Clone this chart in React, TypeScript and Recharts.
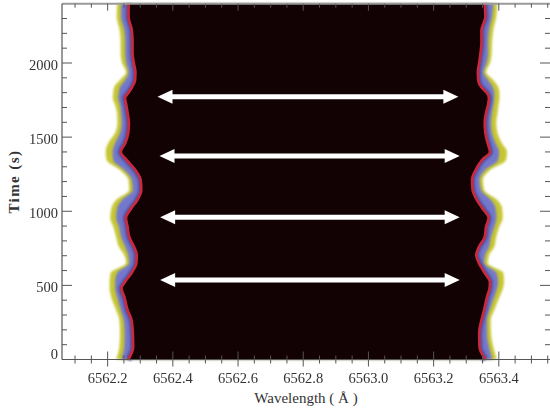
import { Area, ComposedChart, ReferenceDot, ReferenceLine, XAxis, YAxis } from "recharts";

const times = [2400, 2310, 2222, 2135, 2067, 2000, 1939, 1885, 1838, 1797, 1764, 1717, 1663, 1595, 1528, 1460, 1400, 1346, 1278, 1211, 1143, 1076, 1022, 954, 894, 826, 759, 705, 651, 583, 523, 482, 422, 334, 266, 179, 84, 0];

// left edge of the line: yellow rim, start of the blue, red ridge
const leftOuter = [6562.229, 6562.228, 6562.237, 6562.24, 6562.24, 6562.244, 6562.257, 6562.238, 6562.22, 6562.217, 6562.216, 6562.223, 6562.229, 6562.23, 6562.223, 6562.202, 6562.194, 6562.197, 6562.238, 6562.264, 6562.266, 6562.226, 6562.212, 6562.208, 6562.218, 6562.226, 6562.235, 6562.251, 6562.257, 6562.209, 6562.206, 6562.206, 6562.211, 6562.226, 6562.236, 6562.238, 6562.236, 6562.226];
const leftBlue = [6562.241, 6562.241, 6562.251, 6562.254, 6562.254, 6562.257, 6562.264, 6562.254, 6562.238, 6562.234, 6562.232, 6562.238, 6562.241, 6562.243, 6562.238, 6562.223, 6562.215, 6562.217, 6562.251, 6562.274, 6562.277, 6562.244, 6562.229, 6562.226, 6562.235, 6562.241, 6562.254, 6562.263, 6562.266, 6562.229, 6562.223, 6562.223, 6562.229, 6562.24, 6562.249, 6562.252, 6562.251, 6562.241];
const leftRed = [6562.264, 6562.264, 6562.274, 6562.276, 6562.276, 6562.28, 6562.285, 6562.284, 6562.275, 6562.263, 6562.253, 6562.257, 6562.261, 6562.265, 6562.263, 6562.254, 6562.24, 6562.258, 6562.285, 6562.301, 6562.303, 6562.291, 6562.273, 6562.256, 6562.261, 6562.266, 6562.281, 6562.289, 6562.288, 6562.273, 6562.253, 6562.242, 6562.251, 6562.261, 6562.273, 6562.277, 6562.278, 6562.263];

// right edge, same three curves
const rightRed = [6563.357, 6563.359, 6563.347, 6563.347, 6563.344, 6563.34, 6563.336, 6563.337, 6563.346, 6563.364, 6563.37, 6563.367, 6563.361, 6563.357, 6563.359, 6563.366, 6563.373, 6563.349, 6563.329, 6563.318, 6563.32, 6563.333, 6563.349, 6563.369, 6563.361, 6563.357, 6563.339, 6563.331, 6563.339, 6563.357, 6563.373, 6563.372, 6563.364, 6563.355, 6563.347, 6563.34, 6563.341, 6563.359];
const rightBlue = [6563.383, 6563.379, 6563.37, 6563.367, 6563.367, 6563.363, 6563.353, 6563.367, 6563.381, 6563.386, 6563.386, 6563.383, 6563.379, 6563.376, 6563.379, 6563.39, 6563.401, 6563.398, 6563.358, 6563.341, 6563.346, 6563.376, 6563.39, 6563.393, 6563.386, 6563.376, 6563.37, 6563.358, 6563.355, 6563.393, 6563.398, 6563.395, 6563.386, 6563.372, 6563.364, 6563.364, 6563.37, 6563.381];
const rightOuter = [6563.395, 6563.392, 6563.383, 6563.379, 6563.378, 6563.373, 6563.361, 6563.383, 6563.398, 6563.402, 6563.402, 6563.399, 6563.396, 6563.392, 6563.396, 6563.409, 6563.425, 6563.422, 6563.373, 6563.351, 6563.355, 6563.395, 6563.41, 6563.412, 6563.401, 6563.392, 6563.386, 6563.37, 6563.366, 6563.414, 6563.416, 6563.413, 6563.402, 6563.386, 6563.375, 6563.376, 6563.383, 6563.394];

const arrowTimes = [1773, 1373, 959, 536];
const arrowLeft = [6562.353, 6562.359, 6562.361, 6562.361];
const arrowRight = [6563.276, 6563.28, 6563.28, 6563.28];

const xTicks = [6562.1, 6562.15, 6562.2, 6562.25, 6562.3, 6562.35, 6562.4, 6562.45, 6562.5, 6562.55, 6562.6, 6562.65, 6562.7, 6562.75, 6562.8, 6562.85, 6562.9, 6562.95, 6563.0, 6563.05, 6563.1, 6563.15, 6563.2, 6563.25, 6563.3, 6563.35, 6563.4, 6563.45, 6563.5, 6563.55];
const xLabelled = [6562.2, 6562.4, 6562.6, 6562.8, 6563.0, 6563.2, 6563.4];
const yTicks = [0, 100, 200, 300, 400, 500, 600, 700, 800, 900, 1000, 1100, 1200, 1300, 1400, 1500, 1600, 1700, 1800, 1900, 2000, 2100, 2200, 2300];
const yLabelled = [0, 500, 1000, 1500, 2000];

const xDomain = [6562.06, 6563.557];
const yDomain = [0, 2400];
const ink = "#555";
const font = "'Liberation Serif', serif";

const rows = times.map((time, i) => ({
  time,
  outer: [leftOuter[i], rightOuter[i]],
  blue: [leftBlue[i], rightBlue[i]],
  core: [leftRed[i], rightRed[i]],
}));

function BottomTick({ x, y, payload }: any) {
  const major = xLabelled.includes(payload.value);
  return (
    <g>
      <line x1={x} x2={x} y1={y - (major ? 8 : 4)} y2={y + (major ? 7 : 4)} stroke={ink} />
      {major && (
        <text x={x} y={y + 23} textAnchor="middle" fontSize={14.5} fontFamily={font} fill="#333" className="soft">
          {payload.value.toFixed(1)}
        </text>
      )}
    </g>
  );
}

function TopTick({ x, y, payload }: any) {
  const major = xLabelled.includes(payload.value);
  return <line x1={x} x2={x} y1={y} y2={y + (major ? 7 : 4)} stroke={ink} />;
}

function LeftTick({ x, y, payload }: any) {
  const major = yLabelled.includes(payload.value);
  return (
    <g>
      <line x1={x} x2={x + (major ? 10 : 5)} y1={y} y2={y} stroke={ink} />
      {major && (
        <text x={x - 4} y={payload.value === 0 ? y - 1 : y + 6.5} textAnchor="end" fontSize={14.5} fontFamily={font} fill="#333" className="soft">
          {payload.value}
        </text>
      )}
    </g>
  );
}

function RightTick({ x, y, payload }: any) {
  const major = yLabelled.includes(payload.value);
  return <line x1={x} x2={x - (major ? 10 : 5)} y1={y} y2={y} stroke={ink} />;
}

function ArrowHead({ cx, cy, dir }: any) {
  return <polygon points={`${cx},${cy} ${cx + dir * 15},${cy - 7} ${cx + dir * 15},${cy + 7}`} fill="#fff" />;
}

export default function App() {
  return (
    <div style={{ position: "absolute", left: 0, top: 0, width: 550, height: 411, overflow: "hidden" }}>
      <style>{`
        .rim { filter: blur(1.1px); }
        .band { filter: blur(1px); }
        .ridge { filter: blur(0.6px); }
        .soft { filter: blur(0.35px); }
      `}</style>
      <ComposedChart
        width={551}
        height={411}
        layout="vertical"
        data={rows}
        margin={{ top: 2.7, right: 0, bottom: 0, left: 0 }}
      >
        <XAxis
          type="number"
          domain={xDomain}
          ticks={xTicks}
          interval={0}
          height={51.5}
          tickLine={false}
          tickSize={0}
          tickMargin={0}
          tick={<BottomTick />}
          axisLine={{ stroke: ink, strokeWidth: 1.2 }}
          label={{ value: "Wavelength ( Å )", position: "insideBottom", offset: 8, fontSize: 15, fontFamily: font, fill: "#333" }}
        />
        <XAxis
          xAxisId="top"
          orientation="top"
          type="number"
          domain={xDomain}
          ticks={xTicks}
          interval={0}
          height={1}
          tickLine={false}
          tickSize={0}
          tickMargin={0}
          tick={<TopTick />}
          axisLine={{ stroke: "#999", strokeWidth: 2 }}
        />
        <YAxis
          type="number"
          dataKey="time"
          reversed
          domain={yDomain}
          ticks={yTicks}
          interval={0}
          width={62}
          tickLine={false}
          tickSize={0}
          tickMargin={0}
          tick={<LeftTick />}
          axisLine={{ stroke: ink, strokeWidth: 1.2 }}
          label={{ value: "Time (s)", angle: -90, position: "insideLeft", offset: 14, fontSize: 15, fontWeight: "bold", fontFamily: font, fill: "#333", letterSpacing: 1.4, style: { textAnchor: "middle" } }}
        />
        <YAxis
          yAxisId="right"
          orientation="right"
          type="number"
          dataKey="time"
          reversed
          domain={yDomain}
          ticks={yTicks}
          interval={0}
          width={1}
          tickLine={false}
          tickSize={0}
          tickMargin={0}
          tick={<RightTick />}
          axisLine={false}
        />
        {/* empty series so the top and right axes get drawn */}
        <Area xAxisId="top" yAxisId="right" type="monotone" dataKey="core" fill="none" stroke="none" isAnimationActive={false} dot={false} activeDot={false} />
        <Area className="rim" type="monotone" dataKey="outer" fill="#c6c633" fillOpacity={1} stroke="none" isAnimationActive={false} dot={false} activeDot={false} />
        <Area className="band" type="monotone" dataKey="blue" fill="#7478cc" fillOpacity={1} stroke="none" isAnimationActive={false} dot={false} activeDot={false} />
        <Area className="rim" type="monotone" dataKey="core" fill="none" stroke="#50529e" strokeWidth={6} isAnimationActive={false} dot={false} activeDot={false} />
        <Area className="ridge" type="monotone" dataKey="core" fill="#130204" fillOpacity={1} stroke="#c92a40" strokeWidth={2.8} isAnimationActive={false} dot={false} activeDot={false} />
        {arrowTimes.map((t, i) => (
          <ReferenceLine
            key={t}
            segment={[
              { x: arrowLeft[i] + 0.03, y: t },
              { x: arrowRight[i] - 0.03, y: t },
            ]}
            stroke="#fff"
            strokeWidth={5}
          />
        ))}
        {arrowTimes.map((t, i) => (
          <ReferenceDot key={"l" + t} x={arrowLeft[i]} y={t} r={7} shape={<ArrowHead dir={1} />} />
        ))}
        {arrowTimes.map((t, i) => (
          <ReferenceDot key={"r" + t} x={arrowRight[i]} y={t} r={7} shape={<ArrowHead dir={-1} />} />
        ))}
      </ComposedChart>
    </div>
  );
}
